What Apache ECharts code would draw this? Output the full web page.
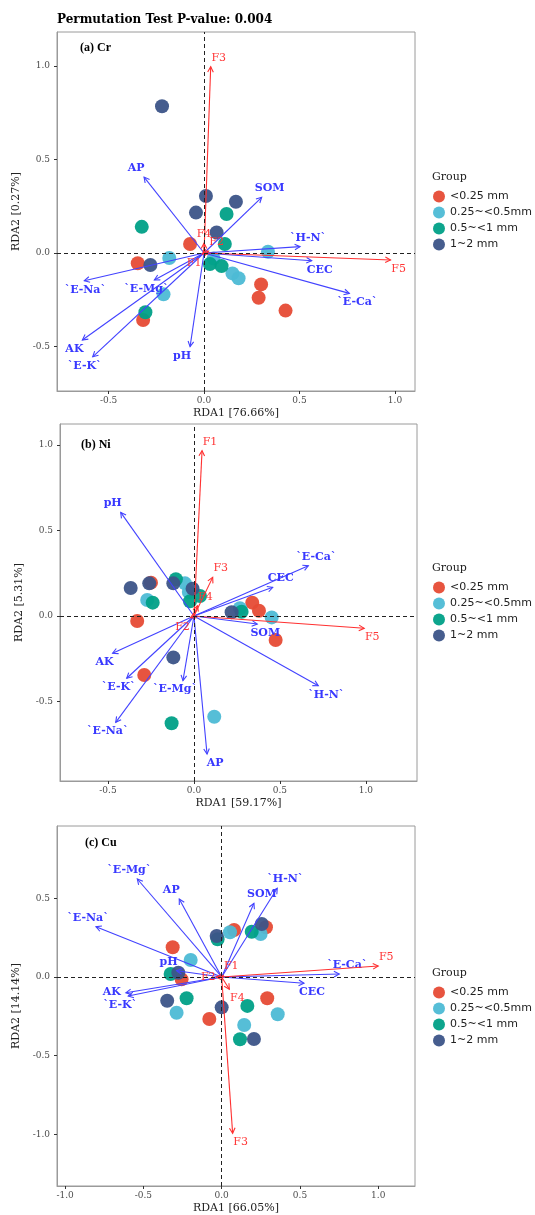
<!DOCTYPE html>
<html><head><meta charset="utf-8">
<script src="https://cdn.jsdelivr.net/npm/echarts@6/dist/echarts.min.js"></script>
<style>html,body{margin:0;padding:0;background:#fff}#c{width:535px;height:1215px}</style>
</head><body><div id="c"></div>
<script>
// ---------------- DATA ----------------
const groups = ['<0.25 mm', '0.25~<0.5mm', '0.5~<1 mm', '1~2 mm'];
const groupColors = ['#E64B35', '#4DBBD5', '#00A087', '#3C5488'];

const titleText = 'Permutation Test P-value: 0.004';
const panelLabels = ['(a) Cr', '(b) Ni', '(c) Cu'];
const xNames = ['RDA1 [76.66%]', 'RDA1 [59.17%]', 'RDA1 [66.05%]'];
const yNames = ['RDA2 [0.27%]', 'RDA2 [5.31%]', 'RDA2 [14.14%]'];

// tick labels per panel
const xTicksA = [-0.5, 0, 0.5, 1.0];
const yTicksA = [-0.5, 0, 0.5, 1.0];
const xTicksB = [-0.5, 0, 0.5, 1.0];
const yTicksB = [-0.5, 0, 0.5, 1.0];
const xTicksC = [-1.0, -0.5, 0, 0.5, 1.0];
const yTicksC = [-1.0, -0.5, 0, 0.5];

// (a) Cr sample scores  [RDA1, RDA2]
const cr_lt025  = [[-0.073,0.048],[-0.347,-0.055],[0.299,-0.168],[0.286,-0.239],[0.427,-0.308],[-0.319,-0.358]];
const cr_025_05 = [[-0.182,-0.027],[0.335,0.007],[0.149,-0.109],[0.181,-0.135],[-0.212,-0.221],[0.05,-0.03]];
const cr_05_1   = [[0.118,0.209],[-0.326,0.14],[0.109,0.048],[0.031,-0.059],[0.092,-0.07],[-0.307,-0.317]];
const cr_1_2    = [[-0.22,0.785],[0.01,0.305],[0.167,0.274],[-0.042,0.216],[0.066,0.11],[-0.281,-0.064]];
// (a) Cr environmental vectors
const cr_env = [['AP',-0.314,0.406],['SOM',0.302,0.298],['`H-N`',0.503,0.034],['CEC',0.564,-0.041],['`E-Ca`',0.761,-0.216],
  ['`E-Na`',-0.627,-0.148],['`E-Mg`',-0.26,-0.144],['AK',-0.637,-0.465],['`E-K`',-0.583,-0.555],['pH',-0.073,-0.501]];
const cr_frac = [['F3',0.035,0.996],['F5',0.977,-0.037],['F4',0,0.052],['F2',0.024,0.01],['F1',-0.01,-0.005]];

// (b) Ni sample scores
const ni_lt025  = [[-0.25,0.195],[-0.33,-0.029],[0.339,0.078],[0.378,0.031],[0.475,-0.14],[-0.289,-0.345]];
const ni_025_05 = [[-0.052,0.191],[-0.272,0.094],[0.267,0.045],[0.452,-0.008],[0.118,-0.589],[-0.03,0.14]];
const ni_05_1   = [[-0.105,0.215],[-0.24,0.078],[-0.023,0.086],[0.035,0.117],[0.277,0.025],[-0.13,-0.627]];
const ni_1_2    = [[-0.368,0.164],[-0.26,0.191],[-0.12,0.191],[-0.008,0.16],[0.219,0.022],[-0.12,-0.242]];
const ni_env = [['pH',-0.426,0.606],['`E-Ca`',0.665,0.294],['CEC',0.458,0.168],['SOM',0.368,-0.047],['`H-N`',0.723,-0.408],
  ['AK',-0.473,-0.218],['`E-K`',-0.391,-0.364],['`E-Mg`',-0.064,-0.378],['`E-Na`',-0.455,-0.622],['AP',0.076,-0.807]];
const ni_frac = [['F1',0.047,0.967],['F3',0.109,0.226],['F4',0.02,0.06],['F2',-0.02,-0.01],['F5',0.99,-0.072]];

// (c) Cu sample scores
const cu_lt025  = [[0.079,0.299],[0.283,0.316],[-0.313,0.189],[-0.256,-0.015],[0.291,-0.135],[-0.079,-0.267]];
const cu_025_05 = [[0.053,0.284],[0.249,0.273],[-0.198,0.108],[-0.288,-0.227],[0.358,-0.237],[0.144,-0.305]];
const cu_05_1   = [[-0.026,0.24],[0.192,0.288],[-0.326,0.019],[-0.224,-0.135],[0.164,-0.184],[0.117,-0.396]];
const cu_1_2    = [[-0.032,0.261],[0.256,0.337],[-0.277,0.027],[-0.348,-0.151],[0,-0.193],[0.206,-0.394]];
const cu_env = [['`E-Mg`',-0.539,0.623],['AP',-0.271,0.496],['`E-Na`',-0.803,0.32],['SOM',0.206,0.469],['`H-N`',0.355,0.564],
  ['pH',-0.288,0.04],['`E-Ca`',0.751,0.019],['CEC',0.526,-0.04],['AK',-0.612,-0.1],['`E-K`',-0.597,-0.121]];
const cu_frac = [['F5',1.0,0.07],['F1',0.01,0.01],['F2',-0.035,0],['F4',0.049,-0.078],['F3',0.07,-0.994]];

// ---------------- LAYOUT ----------------
const layout = [
  {left:57, top:32,  width:358, height:359, xr:[-0.770,1.105], yr:[-0.738,1.182], xt:xTicksA, yt:yTicksA,
   samples:[cr_lt025,cr_025_05,cr_05_1,cr_1_2], env:cr_env, frac:cr_frac, legendTop:190, groupTop:172, lab:[80,42],
   nudge:{'`E-Na`':[9,0]}},
  {left:60, top:424, width:357, height:357, xr:[-0.779,1.297], yr:[-0.965,1.123], xt:xTicksB, yt:yTicksB,
   samples:[ni_lt025,ni_025_05,ni_05_1,ni_1_2], env:ni_env, frac:ni_frac, legendTop:581, groupTop:563, lab:[81,439],
   nudge:{}},
  {left:57, top:826, width:358, height:360, xr:[-1.052,1.235], yr:[-1.329,0.96], xt:xTicksC, yt:yTicksC,
   samples:[cu_lt025,cu_025_05,cu_05_1,cu_1_2], env:cu_env, frac:cu_frac, legendTop:986, groupTop:968, lab:[85,837],
   nudge:{'AK':[-6,-10]}}
];

const ENV_COLOR = '#4242ff', ENV_TEXT = '#3838ff';
const FRAC_COLOR = '#ff3030', FRAC_TEXT = '#ff3535';

function arrowSeries(pi, items, isEnv, nudge) {
  return {
    type: 'custom', xAxisIndex: pi, yAxisIndex: pi, z: 4, silent: true,
    encode: {x: 0, y: 1},
    data: items.map(d => [d[1], d[2]]),
    renderItem: function (params, api) {
      const it = items[params.dataIndex];
      const x = api.value(0), y = api.value(1);
      const o = api.coord([0, 0]), t = api.coord([x, y]);
      let dx = t[0] - o[0], dy = t[1] - o[1];
      const len = Math.sqrt(dx*dx + dy*dy) || 1;
      dx /= len; dy /= len;
      const L = 6, a = 28 * Math.PI / 180;
      const ca = Math.cos(a), sa = Math.sin(a);
      const h1 = [t[0] - L*(dx*ca - dy*sa), t[1] - L*(dx*sa + dy*ca)];
      const h2 = [t[0] - L*(dx*ca + dy*sa), t[1] - L*(-dx*sa + dy*ca)];
      const col = isEnv ? ENV_COLOR : FRAC_COLOR;
      const sx = Math.sign(x), sy = Math.sign(y);
      const nd = (isEnv && nudge[it[0]]) ? nudge[it[0]] : [0, 0];
      return {
        type: 'group',
        children: [
          {type:'line', shape:{x1:o[0], y1:o[1], x2:t[0], y2:t[1]}, style:{stroke:col, lineWidth:1.1}},
          {type:'polyline', shape:{points:[h1, t, h2]}, style:{stroke:col, fill:null, lineWidth:1.1}},
          {type:'text', style:{x: t[0] + 8*sx + nd[0], y: t[1] - 9*sy + nd[1], text: it[0],
            fill: isEnv ? ENV_TEXT : FRAC_TEXT,
            font: (isEnv ? 'bold ' : '') + '11px "DejaVu Serif"',
            align:'center', verticalAlign:'middle'}}
        ]
      };
    }
  };
}

const option = {
  animation: false,
  backgroundColor: '#fff',
  title: {text: titleText, left: 57, top: 14, padding: 0,
    textStyle: {fontFamily: 'DejaVu Serif', fontWeight: 'bold', fontSize: 12, color: '#000'}},
  grid: [], xAxis: [], yAxis: [], series: [], legend: [], graphic: []
};

layout.forEach((p, pi) => {
  option.grid.push({left:p.left, top:p.top, width:p.width, height:p.height, show:true,
    borderColor:'#9a9a9a', borderWidth:1, backgroundColor:'transparent', containLabel:false});
  const common = (ticks) => ({
    axisLine: {show: true, onZero: false, lineStyle: {color: '#9a9a9a', width: 1}},
    axisTick: {show: true, length: 3, inside: false, customValues: ticks, lineStyle: {color: '#333'}},
    axisLabel: {customValues: ticks, formatter: v => Number(v).toFixed(1),
      fontFamily: 'DejaVu Serif', fontSize: 9, color: '#4d4d4d'},
    splitLine: {show: false},
    nameLocation: 'middle',
    nameTextStyle: {fontFamily: 'DejaVu Serif', fontSize: 11, color: '#222'}
  });
  const xa = Object.assign(common(p.xt), {type:'value', gridIndex:pi, min:p.xr[0], max:p.xr[1],
    name: xNames[pi], nameGap: 17});
  xa.axisLabel.margin = 5;
  option.xAxis.push(xa);
  const ya = Object.assign(common(p.yt), {type:'value', gridIndex:pi, min:p.yr[0], max:p.yr[1],
    name: yNames[pi], nameGap: 26});
  ya.axisLabel.margin = 7;
  option.yAxis.push(ya);

  p.samples.forEach((arr, gi) => {
    option.series.push({
      type:'scatter', name: groups[gi], xAxisIndex:pi, yAxisIndex:pi, z:2, silent:true,
      symbol:'circle', symbolSize:14,
      itemStyle:{color: groupColors[gi], opacity: 0.95},
      data: arr
    });
  });
  const envS = arrowSeries(pi, p.env, true, p.nudge);
  envS.markLine = {silent:true, symbol:'none', label:{show:false},
    lineStyle:{type:[4,3], color:'#222', width:1},
    data:[{xAxis:0},{yAxis:0}]};
  envS.z = 3;
  option.series.push(envS);
  option.series.push(arrowSeries(pi, p.frac, false, {}));

  option.legend.push({
    orient:'vertical', left: 433, top: p.legendTop, icon:'circle',
    itemWidth:12, itemHeight:12, itemGap:3, padding:0, selectedMode:false,
    textStyle:{fontFamily:'DejaVu Sans', fontSize:11, color:'#222', lineHeight:13},
    data: groups.map(g => ({name: g}))
  });
  option.graphic.push({type:'text', left: 432, top: p.groupTop,
    style:{text:'Group', font:'11px "DejaVu Serif"', fill:'#222'}});
  option.graphic.push({type:'text', left: p.lab[0], top: p.lab[1],
    style:{text: panelLabels[pi], font:'bold 12px "Liberation Serif"', fill:'#000'}});
});

const chart = echarts.init(document.getElementById('c'), null, {renderer:'canvas', width:535, height:1215});
chart.setOption(option);
</script>
</body></html>
